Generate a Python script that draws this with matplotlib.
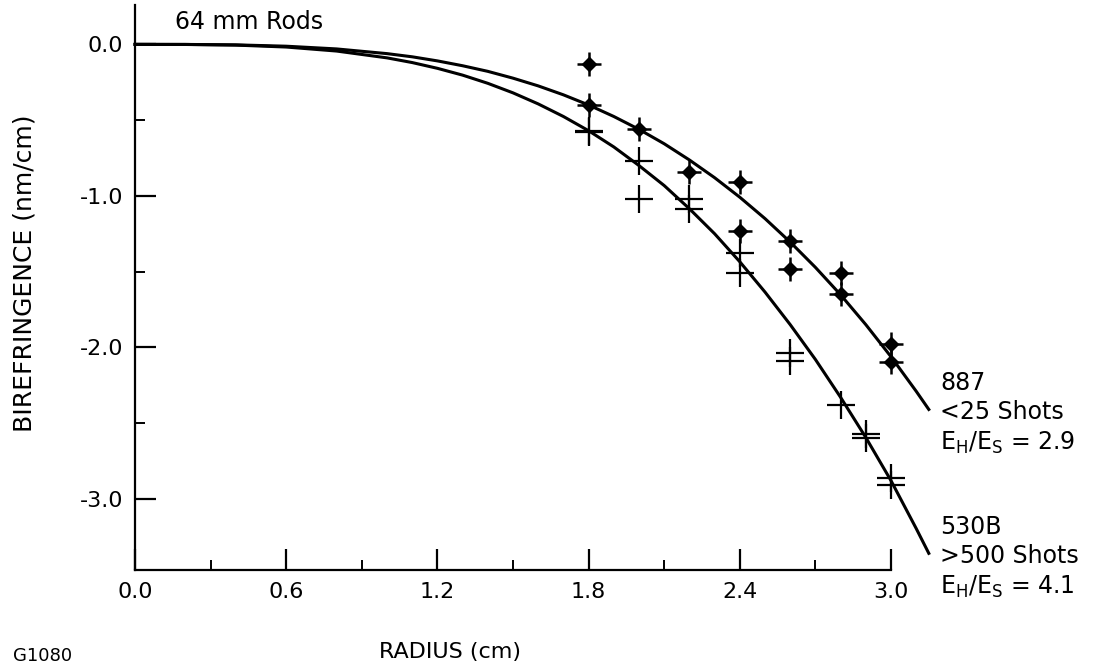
import matplotlib
matplotlib.use("Agg")
import matplotlib.pyplot as plt
from matplotlib.ticker import MultipleLocator

plt.rcParams['font.family'] = ['DejaVu Sans']
plt.rcParams['mathtext.fontset'] = 'dejavusans'

# measured points, rod 887 (<25 shots)
r_887 = [1.8, 1.8, 2.0, 2.2, 2.4, 2.4, 2.6, 2.6, 2.8, 2.8, 3.0, 3.0]
b_887 = [-0.13, -0.40, -0.56, -0.84, -0.91, -1.23, -1.30, -1.48, -1.51, -1.65, -1.98, -2.10]

# measured points, rod 530B (>500 shots)
r_530 = [1.8, 1.8, 2.0, 2.0, 2.2, 2.2, 2.4, 2.4, 2.6, 2.6, 2.8, 2.9, 2.9, 3.0, 3.0]
b_530 = [-0.57, -0.58, -0.77, -1.02, -1.02, -1.09, -1.38, -1.51, -2.04, -2.09, -2.38, -2.57, -2.60, -2.86, -2.91]

# fitted curves
curve_r = [0.0, 0.2, 0.4, 0.6, 0.8, 1.0, 1.1, 1.2, 1.3, 1.4, 1.5, 1.6, 1.7, 1.8, 1.9, 2.0,
           2.1, 2.2, 2.3, 2.4, 2.5, 2.6, 2.7, 2.8, 2.9, 3.0, 3.1, 3.15]
curve_887 = [0.0, -0.0003, -0.0032, -0.012, -0.030, -0.061, -0.082, -0.109, -0.141, -0.178,
             -0.223, -0.274, -0.333, -0.400, -0.476, -0.561, -0.656, -0.763, -0.880, -1.009,
             -1.150, -1.305, -1.472, -1.653, -1.850, -2.062, -2.290, -2.41]
curve_530 = [0.0, -0.0005, -0.0048, -0.0175, -0.044, -0.089, -0.120, -0.158, -0.203, -0.257,
             -0.320, -0.393, -0.476, -0.570, -0.677, -0.800, -0.932, -1.085, -1.250, -1.435,
             -1.635, -1.850, -2.080, -2.330, -2.595, -2.880, -3.196, -3.36]

xticks = [0.0, 0.6, 1.2, 1.8, 2.4, 3.0]
yticks = [0.0, -1.0, -2.0, -3.0]

W, H = 1095, 669
fig = plt.figure(figsize=(W / 100, H / 100), dpi=100)
ax = fig.add_axes([135 / W, 1 - 570 / H, (891 - 135) / W, (570 - 5) / H])

ax.plot(curve_r, curve_887, color='black', lw=2.2, clip_on=False)
ax.plot(curve_r, curve_530, color='black', lw=2.2, clip_on=False)

ax.plot(r_887, b_887, ls='none', marker='+', ms=17, mew=1.8, color='black', clip_on=False)
ax.plot(r_887, b_887, ls='none', marker='D', ms=7, color='black', clip_on=False)
ax.plot(r_530, b_530, ls='none', marker='+', ms=20, mew=1.6, color='black', clip_on=False)

ax.set_xlim(0.0, 3.0)
ax.set_ylim(-3.47, 0.26)
ax.spines['top'].set_visible(False)
ax.spines['right'].set_visible(False)
for s in ('left', 'bottom'):
    ax.spines[s].set_linewidth(1.6)

ax.set_xticks(xticks)
ax.set_xticklabels(['%.1f' % v for v in xticks])
ax.set_yticks(yticks)
ax.set_yticklabels(['%.1f' % v for v in yticks])
ax.xaxis.set_minor_locator(MultipleLocator(0.3))
ax.yaxis.set_minor_locator(MultipleLocator(0.5))
ax.tick_params(which='major', direction='in', length=15, width=1.6, labelsize=16, pad=8.5)
ax.tick_params(which='minor', direction='in', length=7, width=1.4)

fig.text(25 / W, 1 - 273 / H, 'BIREFRINGENCE (nm/cm)', fontsize=18, rotation=90,
         ha='center', va='center')
fig.text(450 / W, 1 - 652 / H, 'RADIUS (cm)', fontsize=16, ha='center', va='center')
fig.text(13 / W, 1 - 656 / H, 'G1080', fontsize=13, ha='left', va='center')
fig.text(175 / W, 1 - 22 / H, '64 mm Rods', fontsize=17, ha='left', va='center')

lx = 940 / W
for y, s in [(383, '887'), (412, '<25 Shots'), (443, r'$\mathregular{E_H/E_S}$ = 2.9'),
             (527, '530B'), (556, '>500 Shots'), (587, r'$\mathregular{E_H/E_S}$ = 4.1')]:
    fig.text(lx, 1 - y / H, s, fontsize=17, ha='left', va='center')

fig.savefig('out.png', dpi=100)
